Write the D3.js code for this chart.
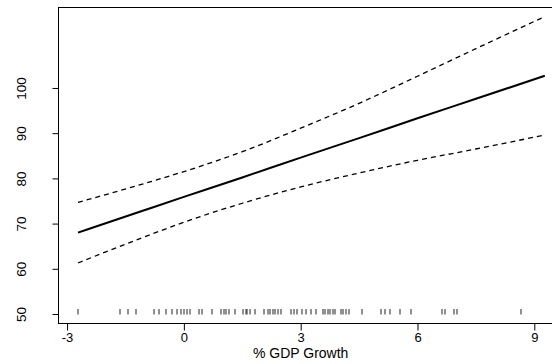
<!DOCTYPE html>
<html>
<head>
<meta charset="utf-8">
<script src="https://cdn.jsdelivr.net/npm/d3@7"></script>
<style>
    body { margin: 0; background: #fff; }
    text { font-family: "Liberation Sans", Arial, sans-serif; fill: #000; }
</style>
</head>
<body>
<div id="chart"></div>
<script>
// values
const gdpGrid = [-2.72, -1, 0, 1.5, 3, 4.5, 6, 7.5, 9.27]
const fitValues = [68.0, 73.0, 75.9, 80.2, 84.6, 88.9, 93.3, 97.6, 102.7]
const upperValues = [74.7, 78.9, 81.5, 85.9, 91.1, 96.6, 102.6, 108.7, 115.8]
const lowerValues = [61.3, 67.1, 70.3, 74.5, 78.1, 81.2, 84.0, 86.5, 89.6]

const rugValues = [-2.74, -1.66, -1.45, -1.23, -0.77, -0.64, -0.46, -0.32, -0.19, -0.08, -0.02,
    0.07, 0.15, 0.37, 0.45, 0.71, 0.95, 1.01, 1.07, 1.14, 1.29, 1.51, 1.57, 1.62, 1.69, 1.82,
    2.05, 2.14, 2.21, 2.27, 2.34, 2.41, 2.47, 2.75, 2.81, 2.89, 3.02, 3.13, 3.26, 3.39, 3.56,
    3.62, 3.68, 3.75, 3.82, 3.88, 4.01, 4.08, 4.14, 4.22, 4.56, 5.05, 5.16, 5.29, 5.55, 5.81,
    6.62, 6.70, 6.92, 7.01, 8.65]
const rugLevel = 50

const xTicks = [-3, 0, 3, 6, 9]
const yTicks = [50, 60, 70, 80, 90, 100]
const xLabel = "% GDP Growth"

const margin = { top: 7.5, left: 58.5 }
const width = 505
const height = 316

let svg = d3.select("#chart")
    .append("svg")
    .attr("width", 552)
    .attr("height", 364)
    .append("g")
    .attr("transform", "translate(" + margin.left + "," + margin.top + ")");

let x = d3.scaleLinear().domain([-3.22, 9.75]).range([0, width])
let y = d3.scaleLinear().domain([47.9, 117.8]).range([height, 0])

// box
svg.append("rect")
    .attr("width", width)
    .attr("height", height)
    .attr("fill", "none")
    .attr("stroke", "#000")
    .attr("stroke-width", 1)

// x axis
let xAxis = svg.append("g")
    .attr("transform", "translate(0," + height + ")")
    .call(d3.axisBottom(x).tickValues(xTicks).tickSize(7).tickPadding(2)
        .tickFormat(d => d))
xAxis.select(".domain").remove()
xAxis.selectAll("text").style("font-size", "13px").attr("dy", "0.72em")

// y axis, labels turned like R's default
let yAxis = svg.append("g")
    .call(d3.axisLeft(y).tickValues(yTicks).tickSize(6).tickFormat(d => d))
yAxis.select(".domain").remove()
yAxis.selectAll("text")
    .style("font-size", "13.5px")
    .attr("text-anchor", "middle")
    .attr("x", 0)
    .attr("dy", 0)
    .attr("transform", "translate(-33,0) rotate(-90)")

svg.append("text")
    .attr("x", x(3))
    .attr("y", height + 34)
    .attr("text-anchor", "middle")
    .style("font-size", "14px")
    .text(xLabel)

// rug
svg.append("g")
    .selectAll("line")
    .data(rugValues)
    .enter()
    .append("line")
    .attr("x1", d => Math.round(x(d)) + 0.5)
    .attr("x2", d => Math.round(x(d)) + 0.5)
    .attr("y1", y(rugLevel) - 5)
    .attr("y2", y(rugLevel) + 0.5)
    .attr("stroke", "#222")
    .attr("stroke-width", 1)

let line = d3.line()
    .x((d, i) => x(gdpGrid[i]))
    .y(d => y(d))
    .curve(d3.curveMonotoneX)

svg.append("path")
    .datum(fitValues)
    .attr("fill", "none")
    .attr("stroke", "#000")
    .attr("stroke-width", 2)
    .attr("d", line)

svg.append("path")
    .datum(upperValues)
    .attr("fill", "none")
    .attr("stroke", "#000")
    .attr("stroke-width", 1.3)
    .attr("stroke-dasharray", "5,4")
    .attr("d", line)

svg.append("path")
    .datum(lowerValues)
    .attr("fill", "none")
    .attr("stroke", "#000")
    .attr("stroke-width", 1.3)
    .attr("stroke-dasharray", "5,4")
    .attr("d", line)
</script>
</body>
</html>
